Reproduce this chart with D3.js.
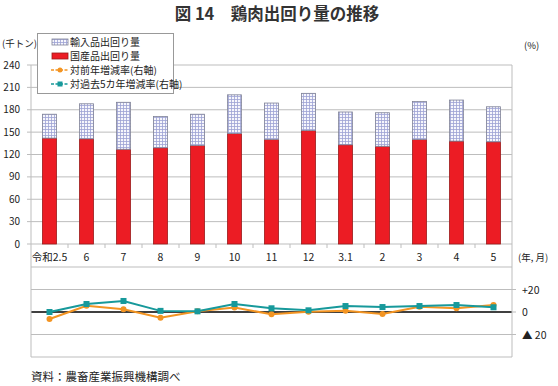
<!DOCTYPE html>
<html>
<head>
<meta charset="utf-8">
<script src="https://cdn.jsdelivr.net/npm/d3@7"></script>
<style>
  body { margin: 0; background: #fff; }
  text { font-family: "Noto Sans CJK JP", "Noto Sans", sans-serif; fill: #222; }
</style>
</head>
<body>
<svg id="chart" width="558" height="386"></svg>
<script>
// data
const categories = ['令和2.5', '6', '7', '8', '9', '10', '11', '12', '3.1', '2', '3', '4', '5'];
const domestic = [142, 141, 127, 129, 132, 148, 140, 152, 133, 131, 140, 138, 137];
const imported = [32, 47, 63, 42, 42, 52, 49, 50, 44, 45, 51, 55, 47];
const yoyRate = [-6.2, 5.6, 2.4, -5.0, 0.6, 3.9, -2.0, 0.3, 1.2, -1.8, 4.7, 3.3, 6.2];
const fiveYrRate = [0.0, 7.1, 9.8, 1.0, 0.6, 7.1, 3.3, 1.5, 5.3, 4.4, 5.3, 6.2, 4.2];
const leftTicks = [0, 30, 60, 90, 120, 150, 180, 210, 240];
const rightTicks = [20, 0, -20];

const svg = d3.select('#chart');
const left = 31, right = 512;
const grid = '#bdbdbd';

const x = d3.scaleBand()
    .domain(categories)
    .range([left, right])
    .paddingInner(0.62)
    .paddingOuter(0.31);

const y = d3.scaleLinear().domain([0, 240]).range([244, 65]);
const y2 = d3.scaleLinear().domain([-40, 40]).range([357, 267]);

// grid pattern for imported bars
const pat = svg.append('defs').append('pattern')
    .attr('id', 'imp')
    .attr('width', 3).attr('height', 3)
    .attr('patternUnits', 'userSpaceOnUse');
pat.append('rect').attr('width', 3).attr('height', 3).attr('fill', '#f6f6fc');
pat.append('path').attr('d', 'M0,0.5H3M0.5,0V3').attr('stroke', '#9da2d4').attr('stroke-width', 0.8);

// title
svg.append('text')
    .attr('x', 277).attr('y', 20)
    .attr('text-anchor', 'middle')
    .style('font-size', '16.5px').style('font-weight', 'bold')
    .style('fill', '#333')
    .text('図 14　鶏肉出回り量の推移');

// upper plot grid
svg.append('g')
  .selectAll('line')
  .data(leftTicks)
  .enter().append('line')
    .attr('x1', left - 4).attr('x2', right)
    .attr('y1', d => y(d)).attr('y2', d => y(d))
    .attr('stroke', grid);

svg.append('g')
  .selectAll('text')
  .data(leftTicks)
  .enter().append('text')
    .attr('x', 20).attr('y', d => y(d) + 3.5)
    .attr('text-anchor', 'end')
    .style('font-size', '10px')
    .text(d => d);

// lower plot grid
svg.append('g')
  .selectAll('line')
  .data([40, 20, -20, -40])
  .enter().append('line')
    .attr('x1', left).attr('x2', right)
    .attr('y1', d => y2(d)).attr('y2', d => y2(d))
    .attr('stroke', grid);

svg.append('line')
    .attr('x1', left).attr('x2', right)
    .attr('y1', y2(0)).attr('y2', y2(0))
    .attr('stroke', '#000').attr('stroke-width', 1.3);

svg.append('g')
  .selectAll('line')
  .data(rightTicks)
  .enter().append('line')
    .attr('x1', right).attr('x2', right + 4)
    .attr('y1', d => y2(d)).attr('y2', d => y2(d))
    .attr('stroke', grid);

svg.append('g')
  .selectAll('text')
  .data(rightTicks)
  .enter().append('text')
    .attr('x', 522).attr('y', d => y2(d) + 4)
    .style('font-size', '10.5px')
    .text(d => d > 0 ? '+' + d : d < 0 ? '▲ ' + (-d) : '0');

// frame verticals
svg.append('line').attr('x1', left).attr('x2', left).attr('y1', y(240)).attr('y2', y2(-40)).attr('stroke', grid);
svg.append('line').attr('x1', right).attr('x2', right).attr('y1', y(240)).attr('y2', y2(-40)).attr('stroke', grid);

// category ticks on the zero line
svg.append('g')
  .selectAll('line')
  .data(categories.slice(1))
  .enter().append('line')
    .attr('x1', d => x(d) - x.step() * x.paddingInner() / 2)
    .attr('x2', d => x(d) - x.step() * x.paddingInner() / 2)
    .attr('y1', 244).attr('y2', 248)
    .attr('stroke', grid);

// stacked bars
svg.append('g')
  .selectAll('rect')
  .data(categories)
  .enter().append('rect')
    .attr('x', d => x(d))
    .attr('y', (d, i) => y(domestic[i]))
    .attr('width', x.bandwidth())
    .attr('height', (d, i) => y(0) - y(domestic[i]))
    .attr('fill', '#ec1c24')
    .attr('stroke', '#9b1b1b').attr('stroke-width', 0.8);

svg.append('g')
  .selectAll('rect')
  .data(categories)
  .enter().append('rect')
    .attr('x', d => x(d))
    .attr('y', (d, i) => y(domestic[i] + imported[i]))
    .attr('width', x.bandwidth())
    .attr('height', (d, i) => y(domestic[i]) - y(domestic[i] + imported[i]))
    .attr('fill', 'url(#imp)')
    .attr('stroke', '#7f8296').attr('stroke-width', 0.8);

// category labels
svg.append('g')
  .selectAll('text')
  .data(categories)
  .enter().append('text')
    .attr('x', d => x(d) + x.bandwidth() / 2)
    .attr('y', 261)
    .attr('text-anchor', 'middle')
    .style('font-size', '10.5px')
    .text(d => d);

// rate lines
const cx = d => x(d) + x.bandwidth() / 2;
const orange = '#f39422', teal = '#17999b';

svg.append('path')
    .datum(yoyRate)
    .attr('fill', 'none').attr('stroke', orange).attr('stroke-width', 2)
    .attr('d', d3.line().x((d, i) => cx(categories[i])).y(d => y2(d)));
svg.append('g')
  .selectAll('circle')
  .data(yoyRate)
  .enter().append('circle')
    .attr('cx', (d, i) => cx(categories[i]))
    .attr('cy', d => y2(d))
    .attr('r', 3)
    .attr('fill', orange);

svg.append('path')
    .datum(fiveYrRate)
    .attr('fill', 'none').attr('stroke', teal).attr('stroke-width', 2)
    .attr('d', d3.line().x((d, i) => cx(categories[i])).y(d => y2(d)));
svg.append('g')
  .selectAll('rect')
  .data(fiveYrRate)
  .enter().append('rect')
    .attr('x', (d, i) => cx(categories[i]) - 3)
    .attr('y', d => y2(d) - 3)
    .attr('width', 6).attr('height', 6)
    .attr('fill', teal);

// axis unit labels
svg.append('text').attr('x', 2).attr('y', 47).style('font-size', '9.5px').text('(千トン)');
svg.append('text').attr('x', 524).attr('y', 49).style('font-size', '9.5px').text('(%)');
svg.append('text').attr('x', 518).attr('y', 261).style('font-size', '9.5px').text('(年, 月)');

// legend
const lg = svg.append('g');
lg.append('rect')
    .attr('x', 37.5).attr('y', 33.5).attr('width', 136).attr('height', 60)
    .attr('fill', '#fff').attr('stroke', '#999');
const legendItems = [
  { label: '輸入品出回り量', type: 'imp' },
  { label: '国産品出回り量', type: 'dom' },
  { label: '対前年増減率(右軸)', type: 'yoy' },
  { label: '対過去5カ年増減率(右軸)', type: 'five' }
];
legendItems.forEach((it, i) => {
  const ly = 42 + i * 14;
  if (it.type === 'imp') {
    lg.append('rect').attr('x', 52).attr('y', ly - 3).attr('width', 16).attr('height', 6)
      .attr('fill', 'url(#imp)').attr('stroke', '#7f8296').attr('stroke-width', 0.8);
  } else if (it.type === 'dom') {
    lg.append('rect').attr('x', 52).attr('y', ly - 3).attr('width', 16).attr('height', 6)
      .attr('fill', '#ec1c24').attr('stroke', '#9b1b1b').attr('stroke-width', 0.8);
  } else {
    const c = it.type === 'yoy' ? orange : teal;
    lg.append('line').attr('x1', 51).attr('x2', 69).attr('y1', ly).attr('y2', ly)
      .attr('stroke', c).attr('stroke-width', 1.5).attr('stroke-dasharray', '3,1.5');
    if (it.type === 'yoy') {
      lg.append('circle').attr('cx', 60).attr('cy', ly).attr('r', 2.5).attr('fill', c);
    } else {
      lg.append('rect').attr('x', 57.5).attr('y', ly - 2.5).attr('width', 5).attr('height', 5).attr('fill', c);
    }
  }
  lg.append('text').attr('x', 70).attr('y', ly + 3.5).style('font-size', '10px').text(it.label);
});

// source note
svg.append('text').attr('x', 31).attr('y', 381).style('font-size', '11.5px').text('資料：農畜産業振興機構調べ');
</script>
</body>
</html>
